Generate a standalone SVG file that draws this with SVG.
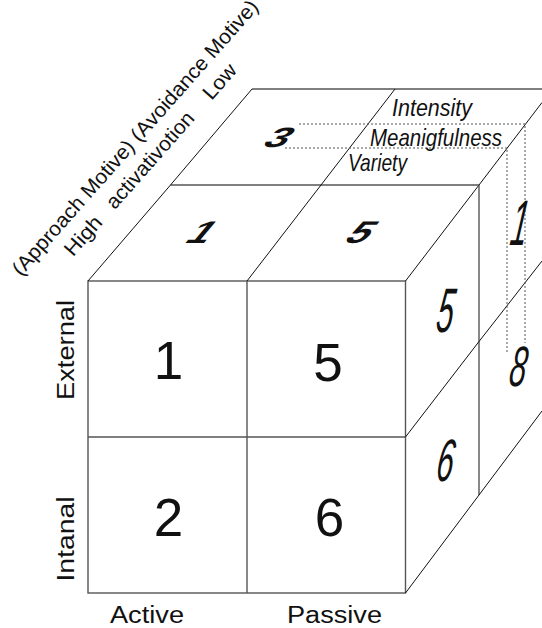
<svg xmlns="http://www.w3.org/2000/svg" width="542" height="628" viewBox="0 0 542 628">
<style>
.ln{fill:none;stroke:#555;stroke-width:1.4}
.dg{fill:none;stroke:#111;stroke-width:1}
.dt{fill:none;stroke:#555;stroke-width:1;stroke-dasharray:2 2}
.lab{font-family:"Liberation Sans",Arial,sans-serif;fill:#111}
.big{font-family:"Liberation Sans",Arial,sans-serif;font-size:53px;fill:#111;text-anchor:middle}
.top{font-family:"Liberation Sans",Arial,sans-serif;font-size:33px;font-weight:bold;fill:#111;text-anchor:middle}
.side{font-family:"Liberation Sans",Arial,sans-serif;font-size:30px;font-style:italic;fill:#111;text-anchor:middle}
.it{font-family:"Liberation Sans",Arial,sans-serif;font-size:24px;font-style:italic;fill:#111}
</style>
<rect width="542" height="628" fill="#fff"/>

<g id="connectors">
  <rect class="ln" x="88" y="281" width="317.5" height="312"/>
  <line class="ln" x1="247" y1="281" x2="247" y2="593"/>
  <line class="ln" x1="88" y1="437" x2="405.5" y2="437"/>
  <line class="ln" x1="252" y1="89" x2="542" y2="89"/>
  <line class="ln" x1="170.5" y1="185" x2="479" y2="185"/>
  <polyline class="dg" points="88,281 170.5,185 252,89"/>
  <polyline class="dg" points="247,281 321,185 395,89"/>
  <polyline class="dg" points="405.5,281 479,185 542,102.5"/>
  <line class="ln" x1="479" y1="185" x2="479" y2="495"/>
  <polyline class="dg" points="405.5,437 479,341.5 542,261"/>
  <polyline class="dg" points="405.5,593 479,495 542,411"/>
  <polyline class="dt" points="299,124 525,124 525,343"/>
  <polyline class="dt" points="285,148 507,148 507,352"/>
</g>

<g id="axis-motive" class="lab" font-size="20.5" transform="translate(21,277) rotate(-48.5)">
  <text x="0" y="0" textLength="360" lengthAdjust="spacingAndGlyphs">(Approach Motive) (Avoidance Motive)</text>
  <text x="49" y="26" textLength="46" lengthAdjust="spacingAndGlyphs">High</text>
  <text x="112" y="26" textLength="122" lengthAdjust="spacingAndGlyphs">activativotion</text>
  <text x="258" y="26" textLength="40" lengthAdjust="spacingAndGlyphs">Low</text>
</g>

<g id="axis-external" class="lab" font-size="23.5">
  <text transform="translate(73.5,350) rotate(-90)" text-anchor="middle" textLength="100" lengthAdjust="spacingAndGlyphs">External</text>
</g>
<g id="axis-intanal" class="lab" font-size="23.5">
  <text transform="translate(73.5,539) rotate(-90)" text-anchor="middle" textLength="85" lengthAdjust="spacingAndGlyphs">Intanal</text>
</g>
<g id="axis-active" class="lab" font-size="23.5">
  <text x="147" y="623" text-anchor="middle" textLength="74" lengthAdjust="spacingAndGlyphs">Active</text>
</g>
<g id="axis-passive" class="lab" font-size="23.5">
  <text x="334.5" y="623" text-anchor="middle" textLength="95" lengthAdjust="spacingAndGlyphs">Passive</text>
</g>

<g id="cell-front-1"><text class="big" x="168.5" y="379">1</text></g>
<g id="cell-front-5"><text class="big" x="328" y="381">5</text></g>
<g id="cell-front-2"><text class="big" x="168.5" y="536">2</text></g>
<g id="cell-front-6"><text class="big" x="329.5" y="536">6</text></g>

<g id="cell-top-1"><text class="top" transform="translate(194,243) skewX(-40) scale(1.2,0.95)">1</text></g>
<g id="cell-top-5"><text class="top" transform="translate(353,243) skewX(-40) scale(1.2,0.95)">5</text></g>
<g id="cell-top-3"><text class="top" transform="translate(272,147) skewX(-40) scale(1.25,0.85)">3</text></g>

<g id="dimensions">
  <text class="it" x="392" y="116" textLength="80" lengthAdjust="spacingAndGlyphs">Intensity</text>
  <text class="it" x="370" y="146" textLength="132" lengthAdjust="spacingAndGlyphs">Meanigfulness</text>
  <text class="it" x="348" y="171" textLength="59" lengthAdjust="spacingAndGlyphs">Variety</text>
</g>

<g id="cell-right-5"><text class="side" transform="translate(443,332) skewX(-8) scale(1,2.1)">5</text></g>
<g id="cell-right-6"><text class="side" transform="translate(443,481) skewX(-8) scale(1,2)">6</text></g>
<g id="cell-right-1"><text class="side" transform="translate(517,245) skewX(-8) scale(1,2.15)">1</text></g>
<g id="cell-right-8"><text class="side" transform="translate(516,386) skewX(-8) scale(1,1.9)">8</text></g>
</svg>
